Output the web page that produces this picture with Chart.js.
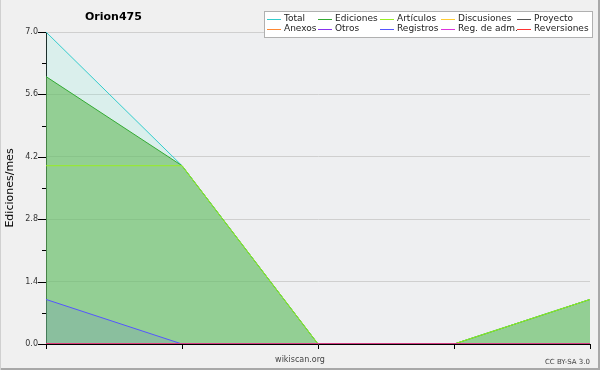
<!DOCTYPE html>
<html>
<head>
<meta charset="utf-8">
<script src="https://cdn.jsdelivr.net/npm/chart.js@4"></script>
<style>
  html, body { margin: 0; padding: 0; background: #f0f0f0; }
  canvas { display: block; }
</style>
</head>
<body>
<canvas id="chart" width="600" height="370"></canvas>
<script>
// months on the x axis (no labels shown in the original)
const months = ['1', '2', '3', '4', '5'];

const seriesNames = ['Total', 'Ediciones', 'Artículos', 'Discusiones', 'Proyecto',
                     'Anexos', 'Otros', 'Registros', 'Reg. de adm.', 'Reversiones'];
const seriesColors = ['#33cccc', '#33aa33', '#99ee22', '#ffcc33', '#555555',
                      '#ff8833', '#8833ee', '#5555ff', '#dd33dd', '#ff3333'];

const total       = [7, 4, 0, 0, 1];
const ediciones   = [6, 4, 0, 0, 1];
const articulos   = [4, 4, 0, 0, 1];
const discusiones = [0, 0, 0, 0, 0];
const proyecto    = [0, 0, 0, 0, 0];
const anexos      = [0, 0, 0, 0, 0];
const otros       = [0, 0, 0, 0, 0];
const registros   = [1, 0, 0, 0, 0];
const regAdm      = [0, 0, 0, 0, 0];
const reversiones = [0, 0, 0, 0, 0];

const seriesData = [total, ediciones, articulos, discusiones, proyecto,
                    anexos, otros, registros, regAdm, reversiones];
const fills = {
  0: 'rgba(140,240,220,0.2)',
  1: 'rgba(100,185,90,0.6)',
  7: 'rgba(60,60,255,0.1)'
};

const datasets = seriesData.map((d, i) => ({
  label: seriesNames[i],
  data: d,
  borderColor: seriesColors[i],
  backgroundColor: fills[i] || 'transparent',
  fill: fills[i] ? 'origin' : false,
  borderWidth: 1,
  pointRadius: 0,
  tension: 0,
  order: seriesNames.length - i   // first series at the back
}));

const FONT = 'DejaVu Sans';
Chart.defaults.font.family = FONT;

const decor = {
  id: 'decor',
  beforeDraw(chart) {
    const { ctx, chartArea: a } = chart;
    ctx.save();
    ctx.fillStyle = '#f0f0f0';
    ctx.fillRect(0, 0, 600, 370);
    ctx.fillStyle = '#eeeff1';
    ctx.fillRect(a.left, a.top, a.right - a.left, a.bottom - a.top);
    // frame
    ctx.fillStyle = '#a8a8a8';
    ctx.fillRect(598, 0, 2, 370);
    ctx.fillRect(0, 368, 600, 2);
    ctx.fillStyle = '#d0d0d0';
    ctx.fillRect(0, 0, 1, 370);
    ctx.restore();
  },
  afterDraw(chart) {
    const { ctx } = chart;
    const y = chart.scales.y;
    ctx.save();
    // y tick marks, major and minor
    ctx.strokeStyle = '#000';
    ctx.lineWidth = 1;
    y.ticks.forEach((t, i) => {
      const py = Math.round(y.getPixelForTick(i)) + 0.5;
      const len = i % 2 === 0 ? 8 : 4;
      ctx.beginPath();
      ctx.moveTo(46 - len, py);
      ctx.lineTo(46, py);
      ctx.stroke();
    });

    // title
    ctx.fillStyle = '#000';
    ctx.font = 'bold 11px "' + FONT + '"';
    ctx.textBaseline = 'middle';
    ctx.textAlign = 'left';
    ctx.fillText('Orion475', 85, 17);

    // legend box
    ctx.fillStyle = '#ffffff';
    ctx.fillRect(264, 11, 329, 27);
    ctx.strokeStyle = '#b0b0b0';
    ctx.strokeRect(264.5, 11.5, 328, 26);
    const cols = [267, 318, 380, 441, 517];
    const rows = [19, 29];
    ctx.font = '9px "' + FONT + '"';
    seriesNames.forEach((name, i) => {
      const cx = cols[i % 5];
      const cy = rows[Math.floor(i / 5)];
      ctx.strokeStyle = seriesColors[i];
      ctx.beginPath();
      ctx.moveTo(cx, cy + 0.5);
      ctx.lineTo(cx + 14, cy + 0.5);
      ctx.stroke();
      ctx.fillStyle = '#222';
      ctx.fillText(name, cx + 17, cy);
    });

    // footer texts
    ctx.fillStyle = '#444';
    ctx.textAlign = 'center';
    ctx.font = '8px "' + FONT + '"';
    ctx.fillText('wikiscan.org', 300, 360);
    ctx.textAlign = 'right';
    ctx.font = '7px "' + FONT + '"';
    ctx.fillText('CC BY-SA 3.0', 590, 362);
    ctx.restore();
  }
};

new Chart(document.getElementById('chart'), {
  type: 'line',
  data: { labels: months, datasets },
  plugins: [decor],
  options: {
    responsive: false,
    animation: false,
    layout: { padding: { top: 32, right: 10, left: 0, bottom: 0 } },
    plugins: { legend: { display: false }, title: { display: false }, tooltip: { enabled: false } },
    scales: {
      x: {
        z: 1,
        offset: false,
        ticks: { display: false },
        grid: { drawOnChartArea: false, color: '#000', tickColor: '#000', tickLength: 5 },
        border: { color: '#000', width: 1 },
        afterFit: s => { s.height = 26; }
      },
      y: {
        min: 0,
        max: 7,
        ticks: {
          stepSize: 0.7,
          padding: 8,
          color: '#333',
          font: { size: 8 },
          callback: (v, i) => (i % 2 === 0 ? v.toFixed(1) : '')
        },
        grid: {
          drawTicks: false,
          color: c => (c.index % 2 === 0 && c.index > 0 ? '#cfcfcf' : 'transparent')
        },
        border: { color: '#000', width: 1 },
        title: {
          display: true,
          text: 'Ediciones/mes',
          color: '#000',
          font: { size: 11 },
          padding: { top: 4, bottom: 0 }
        },
        afterFit: s => { s.width = 46; }
      }
    }
  }
});
</script>
</body>
</html>
